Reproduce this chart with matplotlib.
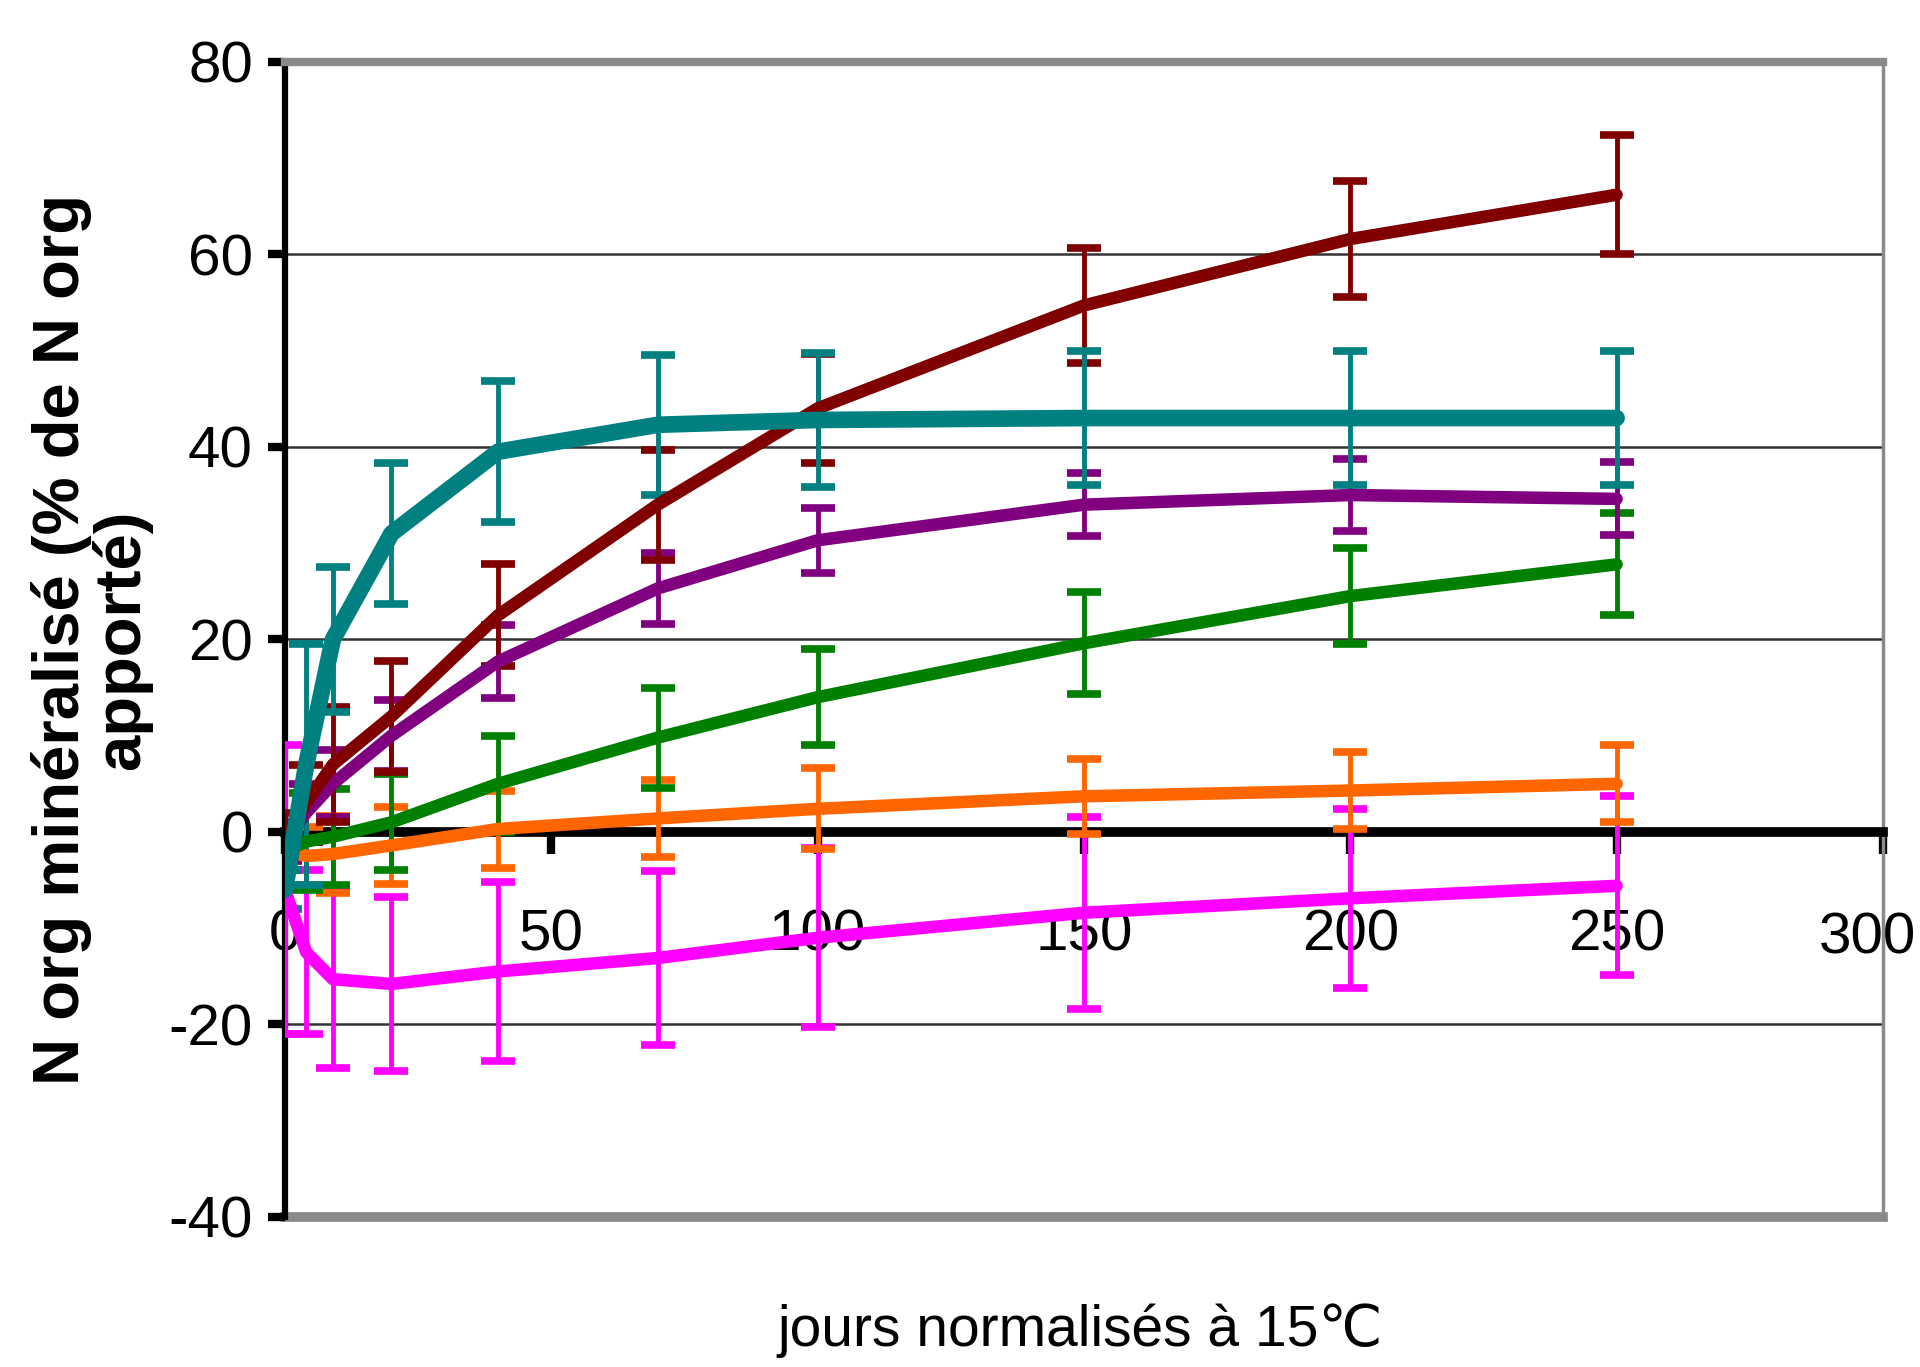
import matplotlib
matplotlib.use("Agg")
import matplotlib.pyplot as plt

# ---------------- data ----------------
days = [0, 4, 9, 20, 40, 70, 100, 150, 200, 250]

teal_y   = [-6, 7, 20, 31, 39.5, 42.3, 42.8, 43, 43, 43]
teal_e   = [2, 12.5, 7.5, 7.3, 7.3, 7.3, 7, 7, 7, 7]
red_y    = [-1, 3, 7, 12, 22.5, 34, 44, 54.7, 61.6, 66.2]
red_e    = [3, 4, 6, 5.8, 5.3, 5.7, 5.7, 6, 6, 6.2]
purple_y = [-1, 2, 5, 10, 17.7, 25.3, 30.3, 34, 35, 34.6]
purple_e = [2, 3, 3.5, 3.7, 3.8, 3.7, 3.4, 3.3, 3.7, 3.8]
green_y  = [-2, -1, -0.5, 1, 5, 9.8, 14, 19.6, 24.5, 27.8]
green_e  = [2, 5, 5, 5, 5, 5.2, 5, 5.3, 5, 5.3]
orange_y = [-2, -2.5, -2.3, -1.4, 0.3, 1.4, 2.4, 3.7, 4.3, 5]
orange_e = [2, 3, 4, 4, 4, 4, 4.2, 3.9, 4, 4]
pink_y   = [-6, -12.5, -15.3, -15.8, -14.5, -13.1, -11, -8.4, -6.9, -5.6]
pink_e   = [15, 8.5, 9.2, 9, 9.3, 9, 9.3, 10, 9.3, 9.3]

series = [
    (pink_y, pink_e, "#FF00FF", 9),
    (orange_y, orange_e, "#FF6600", 9),
    (green_y, green_e, "#008000", 9),
    (purple_y, purple_e, "#800080", 9),
    (red_y, red_e, "#800000", 9),
    (teal_y, teal_e, "#008080", 12),
]

x_ticks = [0, 50, 100, 150, 200, 250, 300]
y_ticks = [-40, -20, 0, 20, 40, 60, 80]
x_label = "jours normalisés à 15℃"
y_label = "N org minéralisé (% de N org\napporté)"

fam = ["Liberation Sans", "DejaVu Sans"]
plt.rcParams["axes.unicode_minus"] = False

# ---------------- figure ----------------
fig = plt.figure(figsize=(19.2, 13.67), dpi=100)
ax = fig.add_axes([0.1484, 0.1098, 0.8323, 0.8449])
ax.set_xlim(0, 300)
ax.set_ylim(-40, 80)

# grid lines
for yv in [-20, 20, 40, 60]:
    ax.axhline(yv, color="#333333", lw=1.8, zorder=1)
ax.axhline(-40, color="#8a8a8a", lw=7, zorder=1, clip_on=False)

for yv, ye, col, lw in series:
    ax.errorbar(days, yv, yerr=ye, color=col, lw=lw, elinewidth=3.5,
                capsize=12, capthick=5.5, solid_capstyle="round",
                solid_joinstyle="round", zorder=3)

# spines
ax.spines["bottom"].set_position(("data", 0))
ax.spines["bottom"].set_color("black")
ax.spines["bottom"].set_linewidth(7)
ax.spines["bottom"].set_zorder(2.5)
ax.spines["left"].set_color("black")
ax.spines["left"].set_linewidth(4.5)
ax.spines["top"].set_color("#8a8a8a")
ax.spines["top"].set_linewidth(6)
ax.spines["right"].set_color("#8a8a8a")
ax.spines["right"].set_linewidth(2.5)

tick_len, tick_pad = 16, 39
ax.set_xticks(x_ticks)
ax.set_yticks(y_ticks)
# the last x label (300) is placed separately so that it stays inside the figure
ax.set_xticklabels([str(v) for v in x_ticks[:-1]] + [""], family=fam, fontsize=42)
ax.set_yticklabels([str(v) for v in y_ticks], family=fam, fontsize=42)
ax.tick_params(axis="x", direction="out", length=tick_len, width=6, pad=tick_pad, color="black")
ax.tick_params(axis="y", direction="out", length=12, width=6, pad=11, color="black")
ax.annotate(str(x_ticks[-1]), xy=(x_ticks[-1], 0), xycoords="data",
            xytext=(24, -(tick_len + tick_pad + 2)), textcoords="offset points",
            ha="right", va="top", family=fam, fontsize=42, annotation_clip=False)

ax.set_xlabel(x_label, family=fam, fontsize=41)
ax.xaxis.set_label_coords(0.4975, -0.075)
ax.set_ylabel(y_label, family=fam, fontweight="bold", fontsize=47, linespacing=0.98)
ax.yaxis.set_label_coords(-0.083, 0.5)

fig.savefig("out.png", dpi=100)
